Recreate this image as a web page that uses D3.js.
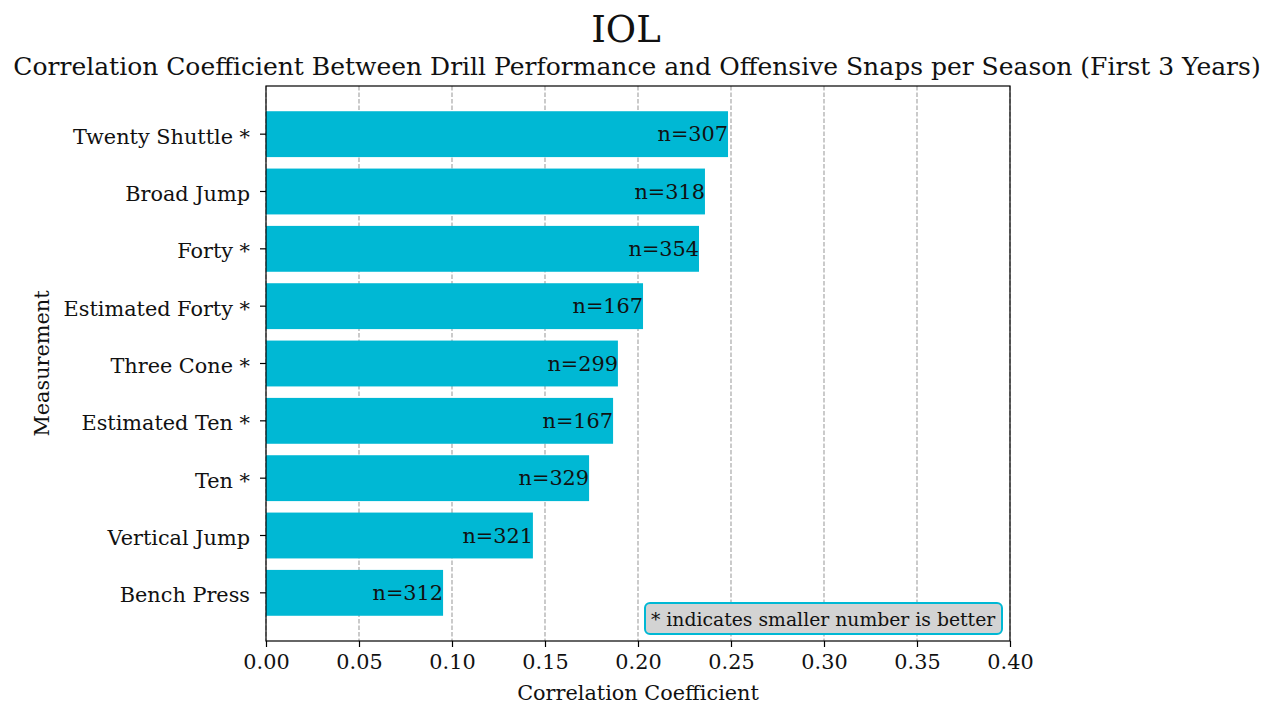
<!DOCTYPE html>
<html>
<head>
<meta charset="utf-8">
<script src="https://cdn.jsdelivr.net/npm/d3@7"></script>
<style>
  body { margin: 0; background: #fff; }
  svg { display: block; font-family: "DejaVu Serif", serif; }
</style>
</head>
<body>
<svg id="chart" width="1274" height="720"></svg>
<script>
// values, top bar first
const measurements = ["Twenty Shuttle *", "Broad Jump", "Forty *", "Estimated Forty *", "Three Cone *",
  "Estimated Ten *", "Ten *", "Vertical Jump", "Bench Press"]
const correlations = [0.2484, 0.2360, 0.2328, 0.2027, 0.1892, 0.1866, 0.1737, 0.1435, 0.0952]
const sampleSizes = [307, 318, 354, 167, 299, 167, 329, 321, 312]
const xTicks = [0, 0.05, 0.1, 0.15, 0.2, 0.25, 0.3, 0.35, 0.4]

const data = measurements.map((m, i) => ({ name: m, r: correlations[i], n: sampleSizes[i] }))

const svg = d3.select("#chart")
const margin = { top: 86, right: 264, bottom: 79, left: 266 }
const width = 1274, height = 720
const innerW = width - margin.left - margin.right
const innerH = height - margin.top - margin.bottom

const x = d3.scaleLinear().domain([0, 0.4]).range([margin.left, margin.left + innerW])
const y = d3.scaleBand()
  .domain(measurements)
  .range([margin.top, margin.top + innerH])
  .paddingInner(0.2)
  .paddingOuter(0.44)

const barColor = "#00b8d4"
const tickFont = 20.8

// grid behind the bars
svg.append("g")
  .selectAll("line")
  .data(xTicks)
  .join("line")
  .attr("x1", d => x(d))
  .attr("x2", d => x(d))
  .attr("y1", margin.top)
  .attr("y2", margin.top + innerH)
  .attr("stroke", "#a0a0a0")
  .attr("stroke-width", 1.1)
  .attr("stroke-dasharray", "4.5,2")

svg.append("g")
  .selectAll("rect")
  .data(data)
  .join("rect")
  .attr("x", x(0))
  .attr("y", d => y(d.name))
  .attr("width", d => x(d.r) - x(0))
  .attr("height", y.bandwidth())
  .attr("fill", barColor)

svg.append("g")
  .attr("font-size", tickFont)
  .attr("fill", "#111")
  .selectAll("text")
  .data(data)
  .join("text")
  .attr("x", d => x(d.r))
  .attr("y", d => y(d.name) + y.bandwidth() / 2)
  .attr("dy", "0.35em")
  .attr("text-anchor", "end")
  .text(d => "n=" + d.n)

// axes
const xAxis = g =>
  g.attr("transform", `translate(0,${margin.top + innerH})`)
    .call(d3.axisBottom(x).tickValues(xTicks).tickFormat(d3.format(".2f")).tickSize(6).tickPadding(7))
    .call(g => g.select(".domain").remove())
    .call(g => g.selectAll("text").attr("font-size", tickFont).attr("font-family", "DejaVu Serif").attr("fill", "#111"))
    .call(g => g.selectAll("line").attr("stroke", "#000").attr("stroke-width", 1.2))

const yAxis = g =>
  g.attr("transform", `translate(${margin.left},0)`)
    .call(d3.axisLeft(y).tickSize(6).tickPadding(10))
    .call(g => g.select(".domain").remove())
    .call(g => g.selectAll("text").attr("font-size", tickFont).attr("font-family", "DejaVu Serif").attr("fill", "#111").attr("dy", "0.45em"))
    .call(g => g.selectAll("line").attr("stroke", "#000").attr("stroke-width", 1.2))

svg.append("g").call(xAxis)
svg.append("g").call(yAxis)

svg.append("rect")
  .attr("x", margin.left)
  .attr("y", margin.top)
  .attr("width", innerW)
  .attr("height", innerH)
  .attr("fill", "none")
  .attr("stroke", "#000")
  .attr("stroke-width", 1.2)

// legend note
const note = svg.append("g").attr("transform", "translate(645,603)")
note.append("rect")
  .attr("width", 357)
  .attr("height", 31)
  .attr("rx", 5)
  .attr("fill", "#d3d3d3")
  .attr("stroke", barColor)
  .attr("stroke-width", 2)
note.append("text")
  .attr("x", 6)
  .attr("y", 16)
  .attr("dy", "0.35em")
  .attr("font-size", 18.8)
  .attr("fill", "#111")
  .text("* indicates smaller number is better")

// titles
const cx = margin.left + innerW / 2
svg.append("text")
  .attr("x", 626)
  .attr("y", 42)
  .attr("text-anchor", "middle")
  .attr("font-size", 37)
  .attr("fill", "#111")
  .text("IOL")

svg.append("text")
  .attr("x", 637)
  .attr("y", 75)
  .attr("text-anchor", "middle")
  .attr("font-size", 25)
  .attr("fill", "#111")
  .text("Correlation Coefficient Between Drill Performance and Offensive Snaps per Season (First 3 Years)")

svg.append("text")
  .attr("x", cx)
  .attr("y", 700)
  .attr("text-anchor", "middle")
  .attr("font-size", tickFont)
  .attr("fill", "#111")
  .text("Correlation Coefficient")

svg.append("text")
  .attr("transform", `translate(49,${margin.top + innerH / 2}) rotate(-90)`)
  .attr("text-anchor", "middle")
  .attr("font-size", tickFont)
  .attr("fill", "#111")
  .text("Measurement")
</script>
</body>
</html>
